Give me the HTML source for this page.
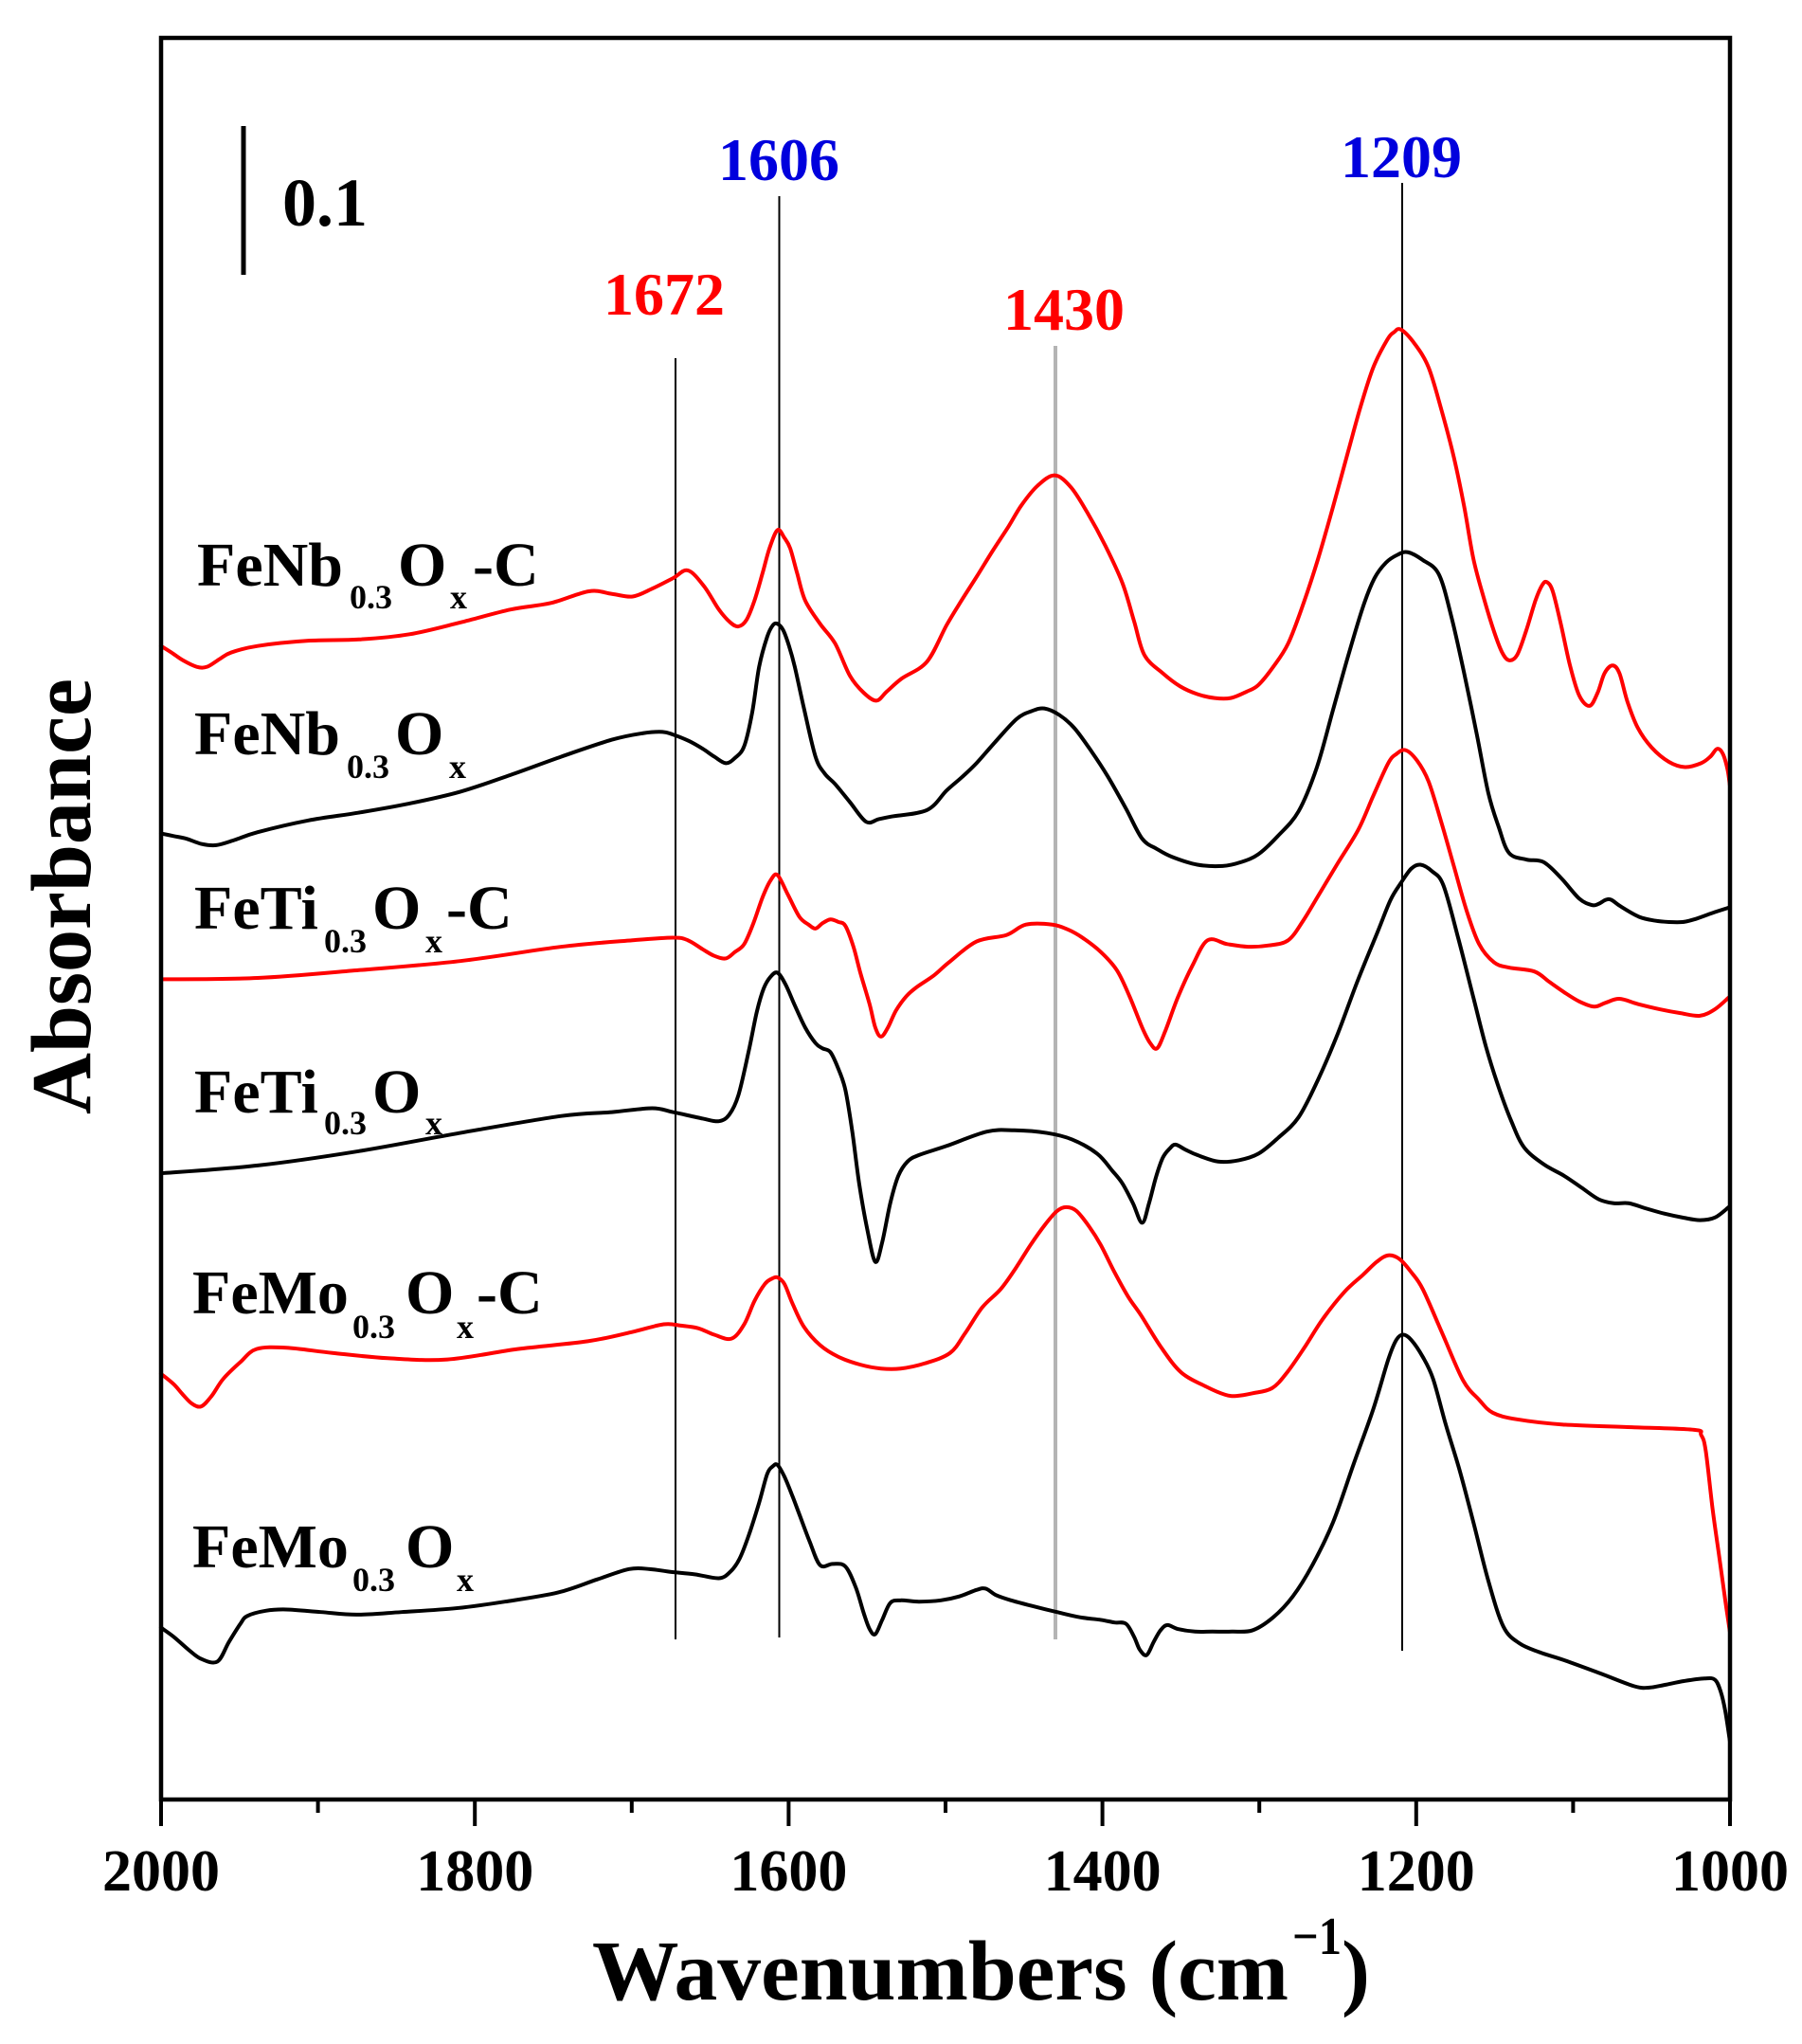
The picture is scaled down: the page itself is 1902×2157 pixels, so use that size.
<!DOCTYPE html>
<html>
<head>
<meta charset="utf-8">
<style>
  html,body{margin:0;padding:0;background:#fff;}
  svg{display:block;}
  text{font-family:"Liberation Serif","Times New Roman",serif;font-weight:bold;}
</style>
</head>
<body>
<svg id="chart" width="1902" height="2157" viewBox="0 0 1902 2157" xmlns="http://www.w3.org/2000/svg">
  <rect x="0" y="0" width="1902" height="2157" fill="#fff"/>

  <!-- reference vertical lines -->
  <line x1="713" y1="378" x2="713" y2="1730" stroke="#000" stroke-width="2"/>
  <line x1="822.5" y1="207" x2="822.5" y2="1728" stroke="#000" stroke-width="2"/>
  <line x1="1114" y1="365" x2="1114" y2="1730" stroke="#b4b4b4" stroke-width="4"/>
  <line x1="1480" y1="193" x2="1480" y2="1742" stroke="#000" stroke-width="2"/>

  <!-- spectra (drawn in a scaled coordinate system) -->
  <g id="spectra" transform="matrix(1.214 0 0 1.374 -1.2 -1.2)" fill="none" stroke-linejoin="round" stroke-linecap="round">
    <!-- FeNb0.3Ox-C -->
    <polyline vector-effect="non-scaling-stroke" stroke="#ff0000" stroke-width="4" points="141,497 150,502 160,508 172,513 181,513 192,507 202,502 225,497 269,493 313,492 357,488 401,479 445,469 480,464 513,455 533,457 551,459 568,453 586,445 599,439 613,451 626,469 636,479 643,482 650,477 657,462 664,441 670,422 677,408 683,414 688,422 694,441 701,462 714,480 727,495 740,520 752,533 763,539 772,532 785,522 807,509 824,481 837,462 850,444 864,424 878,405 889,389 903,374 918,366 932,375 946,394 962,420 977,449 987,478 996,504 1012,518 1027,528 1042,534 1057,537 1071,537 1085,532 1095,527 1108,513 1121,495 1134,465 1147,430 1160,390 1173,348 1184,313 1195,283 1207,262 1213,256 1219,254 1231,265 1243,283 1254,315 1265,352 1274,390 1282,430 1291,460 1300,486 1307,502 1313,508 1320,504 1328,485 1336,462 1342,450 1346,448 1351,455 1358,480 1366,512 1374,535 1383,543 1390,533 1396,518 1403,512 1409,518 1416,540 1425,560 1437,575 1452,586 1466,590 1480,587 1488,582 1494,576 1499,580 1503,592 1505,604"/>
    <!-- FeNb0.3Ox -->
    <polyline vector-effect="non-scaling-stroke" stroke="#000" stroke-width="4" points="141,641 152,643 163,645 176,649 189,650 205,646 225,640 269,631 313,625 357,618 401,609 445,596 489,582 533,569 560,564 577,563 586,565 600,570 612,576 622,582 632,587 640,583 648,574 655,548 661,513 668,490 673,481 677,480 682,485 687,497 692,513 700,545 710,582 718,595 727,603 740,617 754,632 765,630 776,628 807,623 824,608 837,598 850,587 866,571 885,553 898,547 909,545 922,550 935,560 950,578 964,597 980,622 994,645 1007,653 1020,659 1042,665 1064,666 1080,663 1095,657 1112,643 1130,624 1146,590 1160,546 1173,505 1186,467 1196,445 1206,433 1216,427 1225,425 1238,431 1252,442 1263,475 1274,518 1285,565 1295,610 1304,636 1313,656 1328,661 1343,663 1358,675 1374,691 1385,696 1391,695 1397,692 1402,692 1410,697 1426,705 1440,708 1452,709 1464,709 1474,707 1490,702 1504,698"/>
    <!-- FeTi0.3Ox-C -->
    <polyline vector-effect="non-scaling-stroke" stroke="#ff0000" stroke-width="4" points="141,753 225,752 313,746 401,739 489,728 551,723 586,721 599,723 612,730 622,735 632,737 640,732 648,726 656,710 664,690 671,677 677,673 686,688 696,705 704,711 710,714 716,710 723,707 730,709 736,712 743,728 749,748 757,772 762,790 767,797 773,790 780,777 789,766 798,759 813,750 826,740 850,724 876,719 893,711 916,711 930,715 942,721 958,732 972,746 983,766 994,790 1001,802 1007,806 1014,793 1025,767 1038,742 1051,723 1068,726 1086,728 1104,727 1121,723 1134,708 1147,689 1164,664 1182,638 1195,612 1208,587 1215,580 1223,577 1233,585 1243,601 1254,632 1265,666 1276,700 1287,726 1300,740 1313,744 1335,747 1348,755 1361,763 1374,770 1387,774 1397,771 1409,768 1425,772 1444,776 1462,779 1479,781 1492,776 1504,767"/>
    <!-- FeTi0.3Ox -->
    <polyline vector-effect="non-scaling-stroke" stroke="#000" stroke-width="4" points="141,902 225,896 313,885 401,871 489,858 533,855 568,852 586,855 612,860 626,862 635,857 643,842 652,808 659,778 665,760 671,751 677,748 684,757 692,773 701,790 710,802 716,806 723,809 730,822 736,838 742,870 748,910 755,945 762,970 768,955 775,925 782,904 790,893 800,888 824,881 859,870 883,869 911,871 933,876 955,887 968,900 977,910 986,925 994,940 1000,925 1006,905 1012,890 1018,883 1023,880 1032,884 1042,888 1060,893 1078,892 1095,887 1112,875 1130,859 1147,830 1164,795 1181,755 1199,716 1210,692 1219,679 1228,668 1236,665 1246,670 1256,681 1269,722 1282,767 1293,805 1304,836 1315,862 1326,882 1343,895 1361,904 1376,913 1391,922 1404,925 1417,925 1432,929 1448,933 1464,936 1479,938 1492,936 1504,928"/>
    <!-- FeMo0.3Ox-C -->
    <polyline vector-effect="non-scaling-stroke" stroke="#ff0000" stroke-width="4" points="141,1056 152,1064 160,1072 168,1079 176,1081 185,1073 195,1060 210,1047 224,1037 250,1036 290,1040 338,1044 390,1045 451,1037 512,1031 550,1024 578,1018 593,1019 608,1021 622,1026 637,1029 648,1018 657,1000 666,987 672,983 677,982 683,987 690,1002 700,1020 714,1034 730,1043 749,1049 767,1052 784,1052 805,1048 827,1040 840,1025 855,1005 871,991 884,975 897,957 910,941 920,931 928,928 937,931 948,943 958,957 970,978 982,997 993,1011 1010,1035 1028,1055 1050,1066 1066,1072 1076,1073 1090,1071 1107,1067 1120,1055 1135,1036 1151,1014 1170,993 1186,980 1198,970 1208,965 1218,968 1228,978 1238,991 1255,1025 1273,1061 1287,1076 1299,1086 1320,1091 1360,1095 1420,1097 1474,1099 1480,1103 1484,1115 1490,1160 1496,1198 1501,1230 1505,1254"/>
    <!-- FeMo0.3Ox -->
    <polyline vector-effect="non-scaling-stroke" stroke="#000" stroke-width="4" points="141,1251 152,1258 165,1268 176,1275 190,1277 200,1262 210,1248 216,1242 232,1238 250,1237 280,1239 311,1241 350,1239 398,1236 440,1231 486,1224 520,1214 548,1206 566,1206 583,1208 605,1210 626,1213 636,1208 644,1198 652,1180 661,1155 668,1133 673,1127 677,1126 683,1135 690,1150 696,1164 705,1185 714,1203 725,1202 736,1204 745,1220 752,1240 757,1252 762,1256 768,1245 775,1232 784,1230 800,1231 819,1230 835,1227 850,1222 858,1221 867,1226 880,1230 897,1234 920,1239 940,1243 958,1245 970,1247 980,1248 987,1258 992,1268 998,1272 1004,1262 1010,1253 1016,1249 1025,1252 1040,1254 1055,1254 1072,1254 1090,1253 1108,1243 1125,1227 1142,1203 1160,1170 1178,1125 1195,1083 1208,1045 1215,1030 1221,1026 1228,1030 1238,1043 1247,1060 1258,1095 1270,1130 1282,1170 1295,1215 1308,1250 1322,1263 1340,1270 1361,1276 1392,1286 1422,1296 1435,1297 1448,1295 1465,1292 1483,1290 1492,1291 1497,1300 1501,1315 1505,1338"/>
  </g>

  <!-- frame -->
  <rect x="170" y="40" width="1656" height="1859" fill="none" stroke="#000" stroke-width="4.5"/>

  <!-- ticks -->
  <g stroke="#000" stroke-width="4">
    <line x1="170" y1="1899" x2="170" y2="1927"/>
    <line x1="335.6" y1="1899" x2="335.6" y2="1913"/>
    <line x1="501.2" y1="1899" x2="501.2" y2="1927"/>
    <line x1="666.8" y1="1899" x2="666.8" y2="1913"/>
    <line x1="832.4" y1="1899" x2="832.4" y2="1927"/>
    <line x1="998" y1="1899" x2="998" y2="1913"/>
    <line x1="1163.6" y1="1899" x2="1163.6" y2="1927"/>
    <line x1="1329.2" y1="1899" x2="1329.2" y2="1913"/>
    <line x1="1494.8" y1="1899" x2="1494.8" y2="1927"/>
    <line x1="1660.4" y1="1899" x2="1660.4" y2="1913"/>
    <line x1="1826" y1="1899" x2="1826" y2="1927"/>
  </g>

  <!-- tick labels -->
  <g font-size="62" text-anchor="middle" fill="#000">
    <text x="170" y="1995">2000</text>
    <text x="501.2" y="1995">1800</text>
    <text x="832.4" y="1995">1600</text>
    <text x="1163.6" y="1995">1400</text>
    <text x="1494.8" y="1995">1200</text>
    <text x="1826" y="1995">1000</text>
  </g>

  <!-- x axis title -->
  <text x="625" y="2110" font-size="90" fill="#000" textLength="735" lengthAdjust="spacingAndGlyphs">Wavenumbers (cm</text>
  <text x="1364" y="2062" font-size="56" fill="#000" textLength="52" lengthAdjust="spacingAndGlyphs">−1</text>
  <text x="1416" y="2110" font-size="90" fill="#000">)</text>

  <!-- y axis title -->
  <text transform="translate(95,946) rotate(-90)" text-anchor="middle" font-size="90" fill="#000">Absorbance</text>

  <!-- scale bar -->
  <line x1="257" y1="133" x2="257" y2="290" stroke="#000" stroke-width="5"/>
  <text x="298" y="238" font-size="72" fill="#000">0.1</text>

  <!-- peak labels -->
  <text x="758" y="190" font-size="64" fill="#0000dd">1606</text>
  <text x="1415" y="187" font-size="64" fill="#0000dd">1209</text>
  <text x="637" y="332" font-size="64" fill="#ff0000">1672</text>
  <text x="1059" y="348" font-size="64" fill="#ff0000">1430</text>

  <!-- sample labels -->
  <g fill="#000">
    <text x="208" y="618" font-size="66">FeNb</text>
    <text x="369" y="642" font-size="36">0.3</text>
    <text x="420" y="618" font-size="66">O</text>
    <text x="475" y="642" font-size="36">x</text>
    <text x="499" y="618" font-size="66">-C</text>

    <text x="205" y="796" font-size="66">FeNb</text>
    <text x="366" y="821" font-size="36">0.3</text>
    <text x="417" y="796" font-size="66">O</text>
    <text x="474" y="821" font-size="36">x</text>

    <text x="205" y="980" font-size="66">FeTi</text>
    <text x="342" y="1005" font-size="36">0.3</text>
    <text x="393" y="980" font-size="66">O</text>
    <text x="449" y="1005" font-size="36">x</text>
    <text x="471" y="980" font-size="66">-C</text>

    <text x="205" y="1174" font-size="66">FeTi</text>
    <text x="342" y="1197" font-size="36">0.3</text>
    <text x="393" y="1174" font-size="66">O</text>
    <text x="449" y="1197" font-size="36">x</text>

    <text x="203" y="1386" font-size="66">FeMo</text>
    <text x="372" y="1412" font-size="36">0.3</text>
    <text x="428" y="1386" font-size="66">O</text>
    <text x="482" y="1412" font-size="36">x</text>
    <text x="503" y="1386" font-size="66">-C</text>

    <text x="203" y="1654" font-size="66">FeMo</text>
    <text x="372" y="1679" font-size="36">0.3</text>
    <text x="428" y="1654" font-size="66">O</text>
    <text x="482" y="1679" font-size="36">x</text>
  </g>
</svg>
<script>
(function(){
  var NS = "http://www.w3.org/2000/svg";
  var g = document.getElementById("spectra");
  if (!g) return;
  var pls = g.querySelectorAll("polyline");
  for (var k = 0; k < pls.length; k++) {
    var pl = pls[k];
    var raw = pl.getAttribute("points").trim().split(/\s+/);
    var p = [];
    for (var i = 0; i < raw.length; i++) {
      var xy = raw[i].split(",");
      p.push([parseFloat(xy[0]), parseFloat(xy[1])]);
    }
    if (p.length < 3) continue;
    var d = "M" + p[0][0] + "," + p[0][1];
    for (var i = 0; i < p.length - 1; i++) {
      var p0 = p[i > 0 ? i - 1 : 0];
      var p1 = p[i];
      var p2 = p[i + 1];
      var p3 = p[i + 2 < p.length ? i + 2 : p.length - 1];
      var c1x = p1[0] + (p2[0] - p0[0]) / 6;
      var c1y = p1[1] + (p2[1] - p0[1]) / 6;
      var c2x = p2[0] - (p3[0] - p1[0]) / 6;
      var c2y = p2[1] - (p3[1] - p1[1]) / 6;
      d += " C" + c1x.toFixed(2) + "," + c1y.toFixed(2) + " " + c2x.toFixed(2) + "," + c2y.toFixed(2) + " " + p2[0] + "," + p2[1];
    }
    var path = document.createElementNS(NS, "path");
    path.setAttribute("d", d);
    path.setAttribute("fill", "none");
    path.setAttribute("stroke", pl.getAttribute("stroke"));
    path.setAttribute("stroke-width", pl.getAttribute("stroke-width"));
    path.setAttribute("vector-effect", "non-scaling-stroke");
    path.setAttribute("stroke-linejoin", "round");
    path.setAttribute("stroke-linecap", "round");
    pl.parentNode.replaceChild(path, pl);
  }
})();
</script>
</body>
</html>
